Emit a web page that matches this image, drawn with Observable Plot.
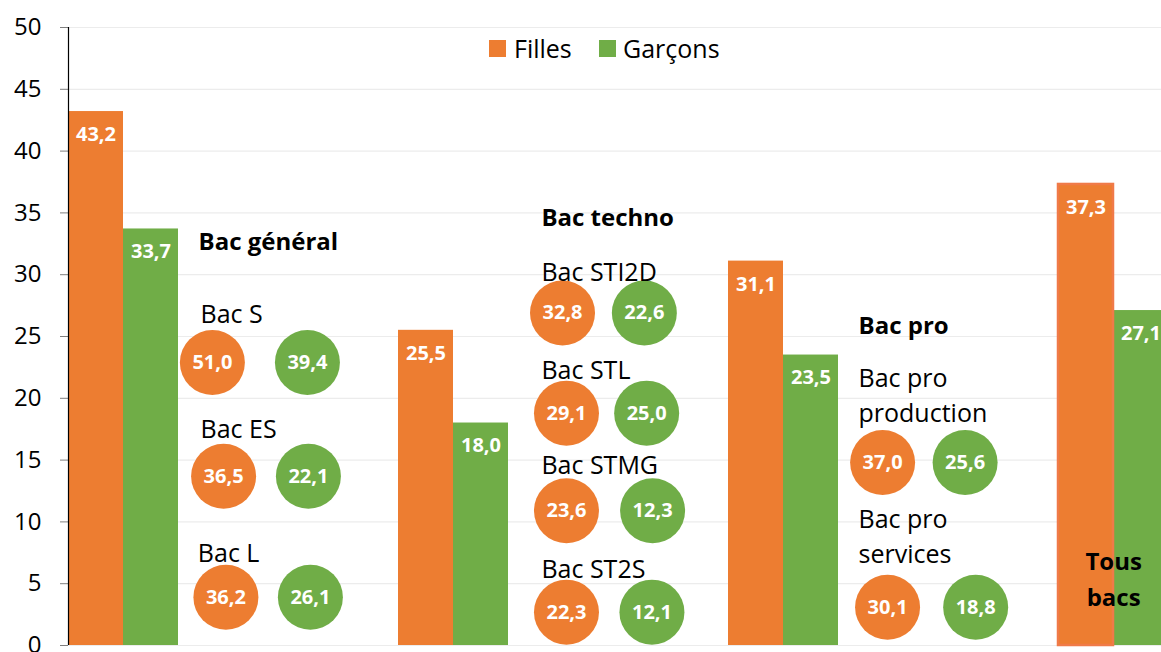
<!DOCTYPE html>
<html><head><meta charset="utf-8">
<script src="https://cdn.jsdelivr.net/npm/d3@7"></script>
<script src="https://cdn.jsdelivr.net/npm/@observablehq/plot@0.6"></script>
<style>
html,body{margin:0;padding:0;background:#fff;overflow:hidden}
#wrap{position:relative;width:1161px;height:652px;overflow:hidden;font-family:"Open Sans",sans-serif}
.sw{position:absolute;width:17px;height:17px;top:40px}
.lt{position:absolute;top:31px;font-size:25px;line-height:34px;color:#000}
</style></head>
<body><div id="wrap"></div>
<script>
// ---- data ----
const groups = ["Bac général", "Bac techno", "Bac pro", "Tous bacs"];
const fillesTotal = [43.2, 25.5, 31.1, 37.3];
const garconsTotal = [33.7, 18.0, 23.5, 27.1];
const subGroup = [0, 0, 0, 1, 1, 1, 1, 2, 2];
const subNames = ["Bac S", "Bac ES", "Bac L", "Bac STI2D", "Bac STL", "Bac STMG", "Bac ST2S", "Bac pro\nproduction", "Bac pro\nservices"];
const fillesSub = [51.0, 36.5, 36.2, 32.8, 29.1, 23.6, 22.3, 37.0, 30.1];
const garconsSub = [39.4, 22.1, 26.1, 22.6, 25.0, 12.3, 12.1, 25.6, 18.8];
const series = ["Filles", "Garçons"];
const yTicks = [0, 5, 10, 15, 20, 25, 30, 35, 40, 45, 50];

// ---- layout (annotation placement, in group units / y units) ----
const headerLayout = [
  {x: 0.394, y: 32.6},
  {x: 0.433, y: 34.6},
  {x: 0.394, y: 25.8},
  {x: 0.167, y: 5.55}
];
const subLayout = [
  {lx: 0.400, ly: 27.0, fx: 0.436, gx: 0.724, cy: 22.9},
  {lx: 0.400, ly: 17.7, fx: 0.470, gx: 0.727, cy: 13.7},
  {lx: 0.392, ly: 7.7, fx: 0.477, gx: 0.733, cy: 3.9},
  {lx: 0.433, ly: 30.4, fx: 0.497, gx: 0.745, cy: 26.9},
  {lx: 0.433, ly: 22.5, fx: 0.509, gx: 0.752, cy: 18.8},
  {lx: 0.433, ly: 14.8, fx: 0.509, gx: 0.770, cy: 10.9},
  {lx: 0.433, ly: 6.4, fx: 0.509, gx: 0.768, cy: 2.7},
  {lx: 0.394, ly: 20.4, fx: 0.467, gx: 0.717, cy: 14.8},
  {lx: 0.394, ly: 9.0, fx: 0.482, gx: 0.749, cy: 3.1}
];
const colors = {Filles: "#ED7D31", "Garçons": "#70AD47"};
const fmt = v => v.toFixed(1).replace(".", ",");
const bw = 1 / 6;

const bars = [];
groups.forEach((g, i) => {
  bars.push({g, s: "Filles", v: fillesTotal[i], x1: i, x2: i + bw});
  bars.push({g, s: "Garçons", v: garconsTotal[i], x1: i + bw, x2: i + 2 * bw});
});
const circles = [];
subNames.forEach((n, i) => {
  const L = subLayout[i], g = subGroup[i];
  circles.push({s: "Filles", v: fillesSub[i], x: g + L.fx, y: L.cy});
  circles.push({s: "Garçons", v: garconsSub[i], x: g + L.gx, y: L.cy});
});
const subLabels = subNames.map((n, i) => ({n, x: subGroup[i] + subLayout[i].lx, y: subLayout[i].ly}));
const headers = groups.map((g, i) => ({n: g === "Tous bacs" ? "Tous\nbacs" : g, x: i + headerLayout[i].x, y: headerLayout[i].y}));

const W = 1161, ML = 68, unit = 330;
const plot = Plot.plot({
  width: W, height: 672,
  marginLeft: ML, marginRight: 0, marginTop: 27, marginBottom: 27,
  style: {fontFamily: "'Open Sans', sans-serif", background: "#fff", overflow: "hidden"},
  x: {domain: [0, (W - ML) / unit], axis: null},
  y: {domain: [0, 50], axis: null},
  color: {domain: series, range: series.map(s => colors[s])},
  marks: [
    Plot.gridY(yTicks, {stroke: "#ececec", strokeOpacity: 1, strokeWidth: 1.2}),
    Plot.axisY(yTicks, {tickSize: 8, tickPadding: 19, fontSize: 24, stroke: "#7f7f7f", fill: "#000", tickFormat: d => d}),
    Plot.rect(bars.filter(d => !(d.g === "Tous bacs" && d.s === "Filles")), {x1: "x1", x2: "x2", y1: 0, y2: "v", fill: "s"}),
    Plot.rect(bars.filter(d => d.g === "Tous bacs" && d.s === "Filles"), {x1: "x1", x2: "x2", y1: 0, y2: "v", fill: "s", stroke: "#F07A48", strokeWidth: 2.5}),
    Plot.ruleX([0], {y1: 0, y2: 50, stroke: "#000", strokeWidth: 1.2}),
    Plot.text(bars, {x: d => (d.x1 + d.x2) / 2, y: "v", dy: 23, text: d => fmt(d.v), fill: "#fff", fontWeight: "bold", fontSize: 20}),
    Plot.dot(circles, {x: "x", y: "y", r: 32.5, fill: "s"}),
    Plot.text(circles, {x: "x", y: "y", text: d => fmt(d.v), fill: "#fff", fontWeight: "bold", fontSize: 20}),
    Plot.text(subLabels, {x: "x", y: "y", text: "n", textAnchor: "start", fontSize: 25, fill: "#000", lineHeight: 1.4}),
    Plot.text(headers.slice(0, 3), {x: "x", y: "y", text: "n", textAnchor: "start", fontSize: 24, fontWeight: "bold", fill: "#000"}),
    Plot.text(headers.slice(3), {x: "x", y: "y", text: "n", textAnchor: "middle", fontSize: 24, fontWeight: "bold", fill: "#000", lineHeight: 1.5})
  ]
});
const wrap = document.getElementById("wrap");
wrap.appendChild(plot);
// legend
const leg = [
  {s: "Filles", sx: 489, tx: 514},
  {s: "Garçons", sx: 599, tx: 623}
];
leg.forEach(l => {
  const sw = document.createElement("div");
  sw.className = "sw"; sw.style.left = l.sx + "px"; sw.style.background = colors[l.s];
  wrap.appendChild(sw);
  const t = document.createElement("div");
  t.className = "lt"; t.style.left = l.tx + "px"; t.textContent = l.s;
  wrap.appendChild(t);
});
</script>
</body></html>
